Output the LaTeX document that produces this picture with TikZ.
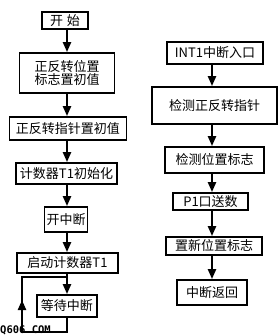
\documentclass[tikz,border=0pt]{standalone}
\usepackage{fontspec}
\setmainfont{Noto Sans CJK SC}
\newfontfamily\wmfont{DejaVu Sans Mono}
\usetikzlibrary{arrows.meta}
\begin{document}
\begin{tikzpicture}[x=1pt,y=-1pt,
  box/.style={draw,line width=1.8pt,rectangle,inner sep=0pt,align=center,
    font=\fontsize{13}{14.5}\selectfont},
  arr/.style={line width=2.2pt,-{Triangle[width=8pt,length=10pt]}},
  ln/.style={line width=2pt}]
\useasboundingbox (0,0) rectangle (278,335);
% left column
\node[box,minimum width=46pt,minimum height=17pt] (s1) at (65,20.5) {开\hspace{4pt}始};
\node[box,minimum width=95pt,minimum height=40pt] (s2) at (67,73) {正反转位置\\[-2pt]标志置初值};
\node[box,minimum width=117pt,minimum height=23pt] (s3) at (68,128.5) {正反转指针置初值};
\node[box,minimum width=101pt,minimum height=21pt] (s4) at (66.5,173.5) {计数器T1初始化};
\node[box,minimum width=43pt,minimum height=25pt] (s5) at (66,219.5) {开中断};
\node[box,minimum width=101pt,minimum height=20pt] (s6) at (67.5,263) {启动计数器T1};
\node[box,minimum width=60pt,minimum height=22pt] (s7) at (67,306) {等待中断};
\draw[arr] (s1.south -| 67,0) -- (s2.north -| 67,0);
\draw[arr] (s2.south -| 67,0) -- (s3.north -| 67,0);
\draw[arr] (s3.south -| 67,0) -- (s4.north -| 67,0);
\draw[arr] (s4.south -| 67,0) -- (s5.north -| 67,0);
\draw[arr] (s5.south -| 67,0) -- (s6.north -| 67,0);
\draw[arr] (s6.south -| 67,0) -- (s7.north -| 67,0);
% loop
\coordinate (lb) at (22,332);
\coordinate (lt) at (22,277);
\coordinate (lm) at (22,300);
\draw[ln] (s7.south -| 67,0) |- (lb) -- (lm);
\draw[arr] (lb) -- (lm);
\draw[ln] (lm) -- (lt) -- (67,277);
% watermark
\node[anchor=south west,inner sep=0pt,font=\fontsize{10.5}{10.5}\wmfont\bfseries] (wm) at (0,335.5) {Q606.COM};
% right column
\node[box,minimum width=96pt,minimum height=22pt] (r1) at (215,53) {INT1中断入口};
\node[box,minimum width=125pt,minimum height=37pt] (r2) at (214.5,105.5) {检测正反转指针};
\node[box,minimum width=99pt,minimum height=26pt] (r3) at (214.5,160) {检测位置标志};
\node[box,minimum width=75pt,minimum height=17pt] (r4) at (210.5,201.5) {P1口送数};
\node[box,minimum width=96pt,minimum height=18pt] (r5) at (214,246) {置新位置标志};
\node[box,minimum width=70pt,minimum height=25pt] (r6) at (212,292.5) {中断返回};
\draw[arr] (r1.south -| 212,0) -- (r2.north -| 212,0);
\draw[arr] (r2.south -| 212,0) -- (r3.north -| 212,0);
\draw[arr] (r3.south -| 212,0) -- (r4.north -| 212,0);
\draw[arr] (r4.south -| 212,0) -- (r5.north -| 212,0);
\draw[arr] (r5.south -| 212,0) -- (r6.north -| 212,0);
\end{tikzpicture}
\end{document}
